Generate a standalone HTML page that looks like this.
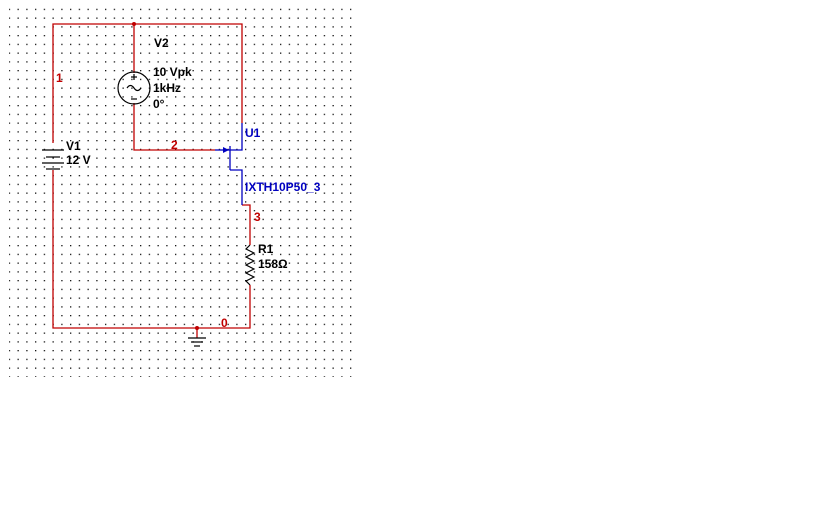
<!DOCTYPE html>
<html><head><style>
body{margin:0;width:840px;height:525px;background:#fff;overflow:hidden}
text{font-family:"Liberation Sans",sans-serif;font-size:12px;font-weight:bold}
</style></head><body>
<svg width="840" height="525" xmlns="http://www.w3.org/2000/svg">
<defs><pattern id="g" x="0" y="0" width="8.75" height="8.75" patternUnits="userSpaceOnUse"><rect x="0" y="0" width="1.3" height="1.3" fill="#111"/></pattern></defs>
<rect x="9" y="7" width="343" height="370" fill="url(#g)"/>
<g stroke="#c00000" stroke-width="1.3" fill="none">
<polyline points="53,143 53,24 242,24 242,123"/>
<line x1="134" y1="24" x2="134" y2="73"/>
<polyline points="134,103 134,150 215,150"/>
<polyline points="53,170 53,328 250,328 250,285"/>
<polyline points="242,205 250,205 250,245"/>
<line x1="197" y1="328" x2="197" y2="338"/>
</g>
<circle cx="134" cy="24" r="2" fill="#c00000"/>
<circle cx="197" cy="328" r="2" fill="#c00000"/>
<g stroke="#000" stroke-width="1.2" fill="none">
<line x1="188" y1="338" x2="206" y2="338"/><line x1="191" y1="342" x2="203" y2="342"/><line x1="194" y1="346" x2="200" y2="346"/>
<line x1="42" y1="150" x2="64" y2="150"/><line x1="46" y1="157" x2="60" y2="157"/><line x1="42" y1="163" x2="64" y2="163"/><line x1="46" y1="169" x2="60" y2="169"/>
<circle cx="134" cy="88" r="16"/>
<path d="M127,88 q3.5,-5 7,0 t7,0"/>
<line x1="131" y1="77" x2="137" y2="77"/><line x1="134" y1="74" x2="134" y2="80"/>
<line x1="131" y1="99" x2="137" y2="99"/>
<polyline points="250,245 246,249 254,253 246,257 254,261 246,265 254,269 246,273 254,277 246,281 250,285"/>
</g>
<g stroke="#0000c0" stroke-width="1.3" fill="none">
<polyline points="215,150 230,150"/>
<polyline points="242,123 242,150 230,150"/>
<line x1="230" y1="146" x2="230" y2="170"/>
<polyline points="230,170 242,170 242,205"/>
</g>
<polygon points="223,147 229,150 223,153" fill="#0000c0"/>
<g fill="#c00000"><text x="56" y="82">1</text><text x="171" y="149">2</text><text x="254" y="221">3</text><text x="221" y="327">0</text></g>
<g fill="#000"><text x="154" y="47">V2</text><text x="153" y="76">10 Vpk</text><text x="153" y="92">1kHz</text><text x="153" y="108">0°</text>
<text x="66" y="150">V1</text><text x="66" y="164">12 V</text><text x="258" y="253">R1</text><text x="258" y="268">158Ω</text></g>
<g fill="#0000c0"><text x="245" y="137">U1</text><text x="245" y="191">IXTH10P50_3</text></g>
</svg>
</body></html>
